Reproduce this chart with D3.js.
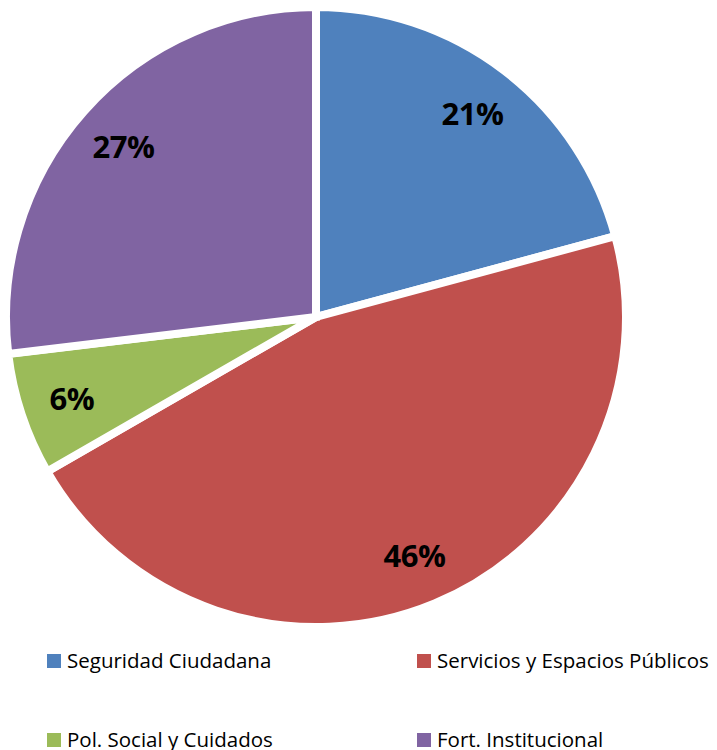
<!DOCTYPE html>
<html><head><meta charset="utf-8">
<script src="https://cdn.jsdelivr.net/npm/d3@7"></script>
<style>html,body{margin:0;padding:0;background:#fff;}</style>
</head><body>
<svg id="chart" width="717" height="750"></svg>
<script>
const categories = ["Seguridad Ciudadana","Servicios y Espacios Públicos","Pol. Social y Cuidados","Fort. Institucional"];
const values = [20.8, 45.9, 6.4, 26.9];
const labels = ["21%","46%","6%","27%"];
const colors = ["#4F81BD","#C0504D","#9BBB59","#8064A2"];

const svg = d3.select("#chart");
const cx = 316, cy = 317, R = 310;
const data = categories.map((c,i)=>({cat:c, value:values[i], label:labels[i], color:colors[i]}));
const pie = d3.pie().value(d=>d.value).sort(null);
const arc = d3.arc().innerRadius(0).outerRadius(R);
const labelArc = d3.arc().innerRadius(R*0.83).outerRadius(R*0.83);
const g = svg.append("g").attr("transform",`translate(${cx},${cy})`);
const arcs = pie(data);
g.selectAll("path").data(arcs).enter().append("path")
  .attr("d",arc).attr("fill",d=>d.data.color)
  .attr("stroke","#fff").attr("stroke-width",8).attr("stroke-linejoin","miter");
g.selectAll("text").data(arcs).enter().append("text")
  .attr("transform",d=>`translate(${labelArc.centroid(d)})`)
  .attr("text-anchor","middle").attr("dominant-baseline","central")
  .style("font-family","'Open Sans', sans-serif").style("font-weight","bold")
  .style("font-size","31px").style("letter-spacing","-0.5px").attr("fill","#000")
  .text(d=>d.data.label);

const legend = svg.append("g");
const colX = [47, 417], rowY = [654, 733];
data.forEach((d,i)=>{
  const x = colX[i%2], y = rowY[Math.floor(i/2)];
  legend.append("rect").attr("x",x).attr("y",y).attr("width",14).attr("height",14).attr("fill",d.color);
  legend.append("text").attr("x",x+20).attr("y",y+14)
    .style("font-family","'Open Sans', sans-serif").style("font-size","20.5px").attr("fill","#000")
    .text(d.cat);
});
</script>
</body></html>
